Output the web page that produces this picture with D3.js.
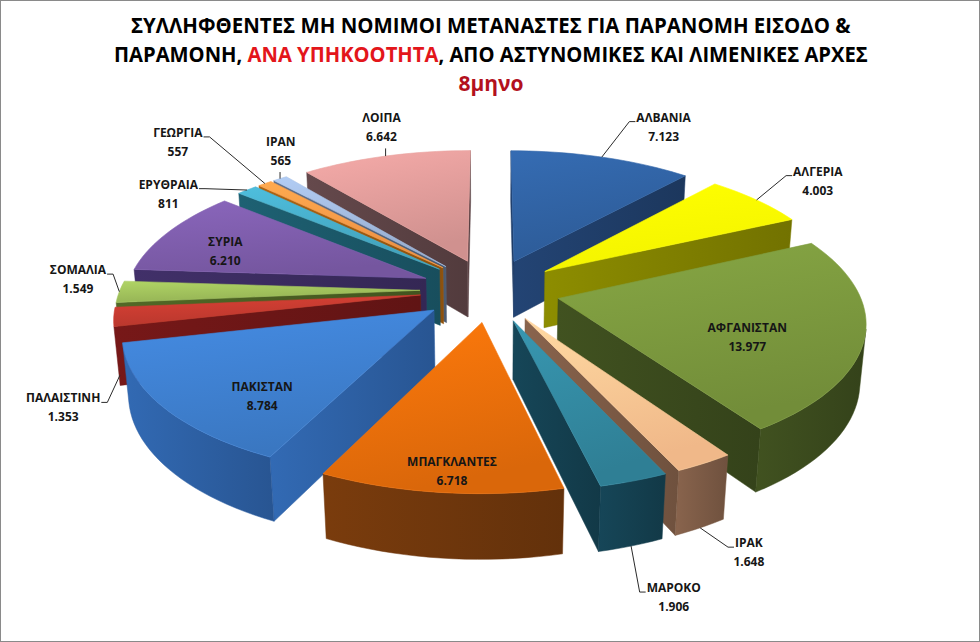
<!DOCTYPE html>
<html lang="el">
<head>
<meta charset="UTF-8">
<title>Συλληφθέντες μη νόμιμοι μετανάστες ανά υπηκοότητα</title>
<style>
  body { margin: 0; background: #fff; }
  svg { display: block; }
  .title { font-family: "Open Sans", "Noto Sans", sans-serif; font-weight: 700; font-size: 21px; }
  .lbl { font-family: "Open Sans", "Noto Sans", sans-serif; font-weight: 700; font-size: 12px; fill: #161616; }
</style>
</head>
<body>
<svg id="chart" width="980" height="642"></svg>
<script src="https://d3js.org/d3.v7.min.js"></script>
<script>
// data, clockwise from 12 o'clock
const countries = ["ΑΛΒΑΝΙΑ", "ΑΛΓΕΡΙΑ", "ΑΦΓΑΝΙΣΤΑΝ", "ΙΡΑΚ", "ΜΑΡΟΚΟ", "ΜΠΑΓΚΛΑΝΤΕΣ", "ΠΑΚΙΣΤΑΝ",
                   "ΠΑΛΑΙΣΤΙΝΗ", "ΣΟΜΑΛΙΑ", "ΣΥΡΙΑ", "ΕΡΥΘΡΑΙΑ", "ΓΕΩΡΓΙΑ", "ΙΡΑΝ", "ΛΟΙΠΑ"];
const arrests = [7123, 4003, 13977, 1648, 1906, 6718, 8784, 1353, 1549, 6210, 811, 557, 565, 6642];
const insideLabels = ["ΑΦΓΑΝΙΣΤΑΝ", "ΜΠΑΓΚΛΑΝΤΕΣ", "ΠΑΚΙΣΤΑΝ", "ΣΥΡΙΑ"];

const topColors = ["#2f5f9e", "#ffff00", "#77933c", "#fac08f", "#31859c", "#e46c0a", "#3d7cc9",
                   "#c0392f", "#9bbb59", "#7a5aa6", "#45a8c3", "#f79646", "#9db5d8", "#d99795"];
const sideColors = ["#1f3d68", "#7f7f00", "#3a4a1d", "#7b5a45", "#143f4f", "#6e360c", "#2d5fa2",
                    "#6b1616", "#4a5e22", "#3a2b5e", "#1b5767", "#9c5a10", "#55657d", "#5b4244"];

const titleLines = [
  [["ΣΥΛΛΗΦΘΕΝΤΕΣ ΜΗ ΝΟΜΙΜΟΙ ΜΕΤΑΝΑΣΤΕΣ ΓΙΑ ΠΑΡΑΝΟΜΗ ΕΙΣΟΔΟ &", "#000"]],
  [["ΠΑΡΑΜΟΝΗ, ", "#000"], ["ΑΝΑ ΥΠΗΚΟΟΤΗΤΑ", "#e3161b"], [", ΑΠΟ ΑΣΤΥΝΟΜΙΚΕΣ ΚΑΙ ΛΙΜΕΝΙΚΕΣ ΑΡΧΕΣ", "#000"]],
  [["8μηνο", "#b3111d"]]
];

// label nudges (px) away from their computed anchors
const labelShift = {
  "ΑΛΒΑΝΙΑ": [37, -10], "ΑΛΓΕΡΙΑ": [-2, -7], "ΙΡΑΚ": [-28, 21], "ΜΑΡΟΚΟ": [-10, 41],
  "ΠΑΛΑΙΣΤΙΝΗ": [55, 74], "ΣΟΜΑΛΙΑ": [59, -22], "ΕΡΥΘΡΑΙΑ": [-22, 18], "ΓΕΩΡΓΙΑ": [-35, -26],
  "ΙΡΑΝ": [49, -11], "ΛΟΙΠΑ": [19, -8],
  "ΑΦΓΑΝΙΣΤΑΝ": [-23, 3], "ΜΠΑΓΚΛΑΝΤΕΣ": [-2, 27], "ΠΑΚΙΣΤΑΝ": [12, 11], "ΣΥΡΙΑ": [-18, -3]
};

const fmt = d3.formatLocale({decimal: ",", thousands: ".", grouping: [3], currency: ["", "€"]}).format(",d");

const svg = d3.select("#chart");
const defs = svg.append("defs");

svg.append("rect")
  .attr("x", 0.5).attr("y", 0.5).attr("width", 979).attr("height", 641)
  .attr("fill", "#fff").attr("stroke", "#8a8a8a");

// title
const titleY = [33, 62, 91];
const titleW = [720, 754, null];
titleLines.forEach((parts, li) => {
  const t = svg.append("text").attr("class", "title").attr("x", 0).attr("y", 0);
  parts.forEach(p => t.append("tspan").attr("fill", p[1]).text(p[0]));
  const w = t.node().getComputedTextLength();
  const k = titleW[li] ? titleW[li] / w : 1;
  t.attr("transform", `translate(${491 - w * k / 2},${titleY[li]}) scale(${k},1)`);
});

// 3d projection of a tilted pie with perspective
const cx = 490, cy = 290, R = 300, explode = 70, H = 65;
const sinA = 0.45, cosA = Math.sqrt(1 - sinA * sinA), dist = 1800;
const cam = [0, -dist * cosA, dist * sinA];

function project(p) {
  const d = dist + p[1] * cosA - p[2] * sinA;
  const s = dist / d;
  return [cx + p[0] * s, cy - (p[1] * sinA + p[2] * cosA) * s];
}
function facing(n, p) {
  return n[0] * (cam[0] - p[0]) + n[1] * (cam[1] - p[1]) + n[2] * (cam[2] - p[2]) > 0;
}
const line = d3.line();
const poly = pts => line(pts.map(project)) + "Z";

const arcs = d3.pie().sort(null).value(d => d)(arrests);

const slices = arcs.map((a, i) => {
  const a0 = a.startAngle, a1 = a.endAngle, mid = (a0 + a1) / 2;
  const ox = explode * Math.sin(mid), oy = explode * Math.cos(mid);
  const rim = (t, z, r = R) => [ox + r * Math.sin(t), oy + r * Math.cos(t), z];
  const tip = z => [ox, oy, z];
  const n = Math.max(2, Math.ceil((a1 - a0) / (Math.PI / 90)));
  const ts = d3.range(n + 1).map(j => a0 + (a1 - a0) * j / n);
  return {i, a0, a1, mid, ox, oy, rim, tip, ts};
});

slices.forEach(s => {
  const g = defs.append("linearGradient").attr("id", "top" + s.i)
    .attr("x1", 0).attr("y1", 0).attr("x2", 0.3).attr("y2", 1);
  g.append("stop").attr("offset", 0).attr("stop-color", d3.color(topColors[s.i]).brighter(0.35));
  g.append("stop").attr("offset", 1).attr("stop-color", d3.color(topColors[s.i]).darker(0.12));
  const h = defs.append("linearGradient").attr("id", "side" + s.i)
    .attr("x1", 0).attr("y1", 0).attr("x2", 1).attr("y2", 0);
  h.append("stop").attr("offset", 0).attr("stop-color", d3.color(sideColors[s.i]).brighter(0.3));
  h.append("stop").attr("offset", 1).attr("stop-color", d3.color(sideColors[s.i]).darker(0.3));
});

const pieG = svg.append("g");
slices.slice().sort((a, b) => Math.cos(b.mid) - Math.cos(a.mid)).forEach(s => {
  const g = pieG.append("g");
  const side = `url(#side${s.i})`;
  const faces = [];
  // radial walls
  const w0 = [s.tip(0), s.rim(s.a0, 0), s.rim(s.a0, -H), s.tip(-H)];
  if (facing([-Math.cos(s.a0), Math.sin(s.a0), 0], s.tip(0))) faces.push(w0);
  const w1 = [s.tip(0), s.rim(s.a1, 0), s.rim(s.a1, -H), s.tip(-H)];
  if (facing([Math.cos(s.a1), -Math.sin(s.a1), 0], s.tip(0))) faces.push(w1);
  // outer curved side, visible runs only
  let run = [];
  const flush = () => {
    if (run.length > 1) faces.push(run.map(t => s.rim(t, 0)).concat(run.slice().reverse().map(t => s.rim(t, -H))));
    run = [];
  };
  for (let j = 0; j < s.ts.length - 1; j++) {
    const tm = (s.ts[j] + s.ts[j + 1]) / 2;
    if (facing([Math.sin(tm), Math.cos(tm), 0], s.rim(tm, 0))) {
      if (!run.length) run.push(s.ts[j]);
      run.push(s.ts[j + 1]);
    } else flush();
  }
  flush();
  faces.forEach(f => g.append("path").attr("d", poly(f))
    .attr("fill", side).attr("stroke", sideColors[s.i]).attr("stroke-width", 0.5)
    .attr("stroke-linejoin", "round"));
  g.append("path")
    .attr("d", poly([s.tip(0)].concat(s.ts.map(t => s.rim(t, 0)))))
    .attr("fill", `url(#top${s.i})`)
    .attr("stroke", d3.color(topColors[s.i]).brighter(0.2)).attr("stroke-width", 0.6)
    .attr("stroke-linejoin", "round");
});

// labels
const lblG = svg.append("g");
slices.forEach(s => {
  const name = countries[s.i];
  const shift = labelShift[name] || [0, 0];
  const inside = insideLabels.includes(name);
  const base = project(inside ? s.rim(s.mid, 0, 0.7 * R) : s.rim(s.mid, 0, R + 100));
  const lx = base[0] + shift[0], ly = base[1] + shift[1];
  const t1 = lblG.append("text").attr("class", "lbl").attr("text-anchor", "middle")
    .attr("x", lx).attr("y", ly + 4).text(name);
  lblG.append("text").attr("class", "lbl").attr("text-anchor", "middle")
    .attr("x", lx).attr("y", ly + 23).text(fmt(arrests[s.i]));
  if (inside) return;

  const w = t1.node().getComputedTextLength();
  const A = project(s.rim(s.mid, Math.cos(s.mid) < -0.1 ? -H : 0));
  let pts;
  if (Math.abs(lx - A[0]) < w / 2) {
    pts = [A, [A[0], ly + 30]];
  } else if (lx > A[0]) {
    pts = [A, [lx - w / 2 - 7, ly + 4], [lx - w / 2 - 1, ly + 4]];
  } else {
    pts = [A, [lx + w / 2 + 7, ly + 4], [lx + w / 2 + 1, ly + 4]];
  }
  lblG.append("path").attr("d", line(pts)).attr("fill", "none")
    .attr("stroke", "#2a2a2a").attr("stroke-width", 1);
});
</script>
</body>
</html>
